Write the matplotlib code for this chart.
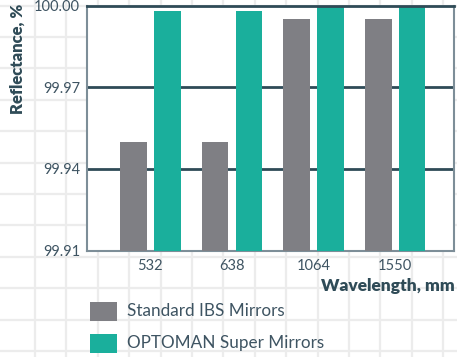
import numpy as np
import matplotlib
matplotlib.use("Agg")
import matplotlib.pyplot as plt
from matplotlib.lines import Line2D
from matplotlib.patches import Rectangle

plt.rcParams['font.family'] = ['Lato', 'DejaVu Sans']

wavelengths = ['532', '638', '1064', '1550']
standard_ibs = [99.95, 99.95, 99.995, 99.995]
optoman_super = [99.998, 99.998, 100.00, 100.00]
series_names = ['Standard IBS Mirrors', 'OPTOMAN Super Mirrors']
y_ticks = [99.91, 99.94, 99.97, 100.00]

GRAY = '#7f7f84'
TEAL = '#1aaf9c'
DARK = '#2f4b57'
TEXT = '#3e5462'
SPINE = '#7d8e98'

W, H = 457, 357
fig = plt.figure(figsize=(W / 100, H / 100), dpi=100)
fig.patch.set_facecolor('white')

# faint graph-paper background
for x in np.arange(35, W, 31.4):
    fig.add_artist(Line2D([x / W, x / W], [0, 1], transform=fig.transFigure,
                          color='#ececec', lw=1.6, zorder=0))
for y in np.arange(37 - 31.4, H, 31.4):
    fig.add_artist(Line2D([0, 1], [1 - y / H, 1 - y / H], transform=fig.transFigure,
                          color='#ececec', lw=1.6, zorder=0))

ax = fig.add_axes([87 / W, 1 - 250.5 / H, (454 - 87) / W, (250.5 - 5.5) / H])
ax.set_facecolor('white')
ax.set_zorder(1)

x = np.arange(len(wavelengths))
bw = 0.325
ax.bar(x - 0.207, standard_ibs, bw, color=GRAY, zorder=3)
ax.bar(x + 0.207, optoman_super, bw, color=TEAL, zorder=3)

ax.set_ylim(99.91, 100.00)
ax.set_xlim(-0.776, 3.72)
ax.set_yticks(y_ticks)
ax.set_yticklabels([f'{v:.2f}' for v in y_ticks])
ax.set_xticks(x)
ax.set_xticklabels(wavelengths)
ax.tick_params(axis='both', length=0, labelsize=10.5, colors=TEXT)
ax.tick_params(axis='y', pad=5)
ax.tick_params(axis='x', pad=6)

for v in y_ticks[1:3]:
    ax.axhline(v, color=DARK, lw=2, zorder=2)

for side in ['left', 'bottom', 'right']:
    ax.spines[side].set_color(SPINE)
    ax.spines[side].set_linewidth(1.5)
ax.spines['top'].set_color(DARK)
ax.spines['top'].set_linewidth(2)
ax.spines['top'].set_zorder(4)

fig.text(18 / W, 1 - 4 / H, 'Reflectance, %', rotation=90, ha='center', va='top',
         fontsize=12, fontweight='heavy', color=DARK)
fig.text(455 / W, 1 - 285.5 / H, 'Wavelength, mm', ha='right', va='center',
         fontsize=12.5, fontweight='heavy', color=DARK)

# legend drawn as swatches and labels below the axes
for i, (name, col) in enumerate(zip(series_names, [GRAY, TEAL])):
    yc = 311 + 32 * i
    fig.add_artist(Rectangle((90 / W, 1 - (yc + 9.5) / H), 27 / W, 19 / H,
                             transform=fig.transFigure, color=col, lw=0))
    fig.text(127 / W, 1 - yc / H, name, ha='left', va='center',
             fontsize=12.3, color=TEXT)

fig.savefig('out.png', dpi=100, facecolor='white')
